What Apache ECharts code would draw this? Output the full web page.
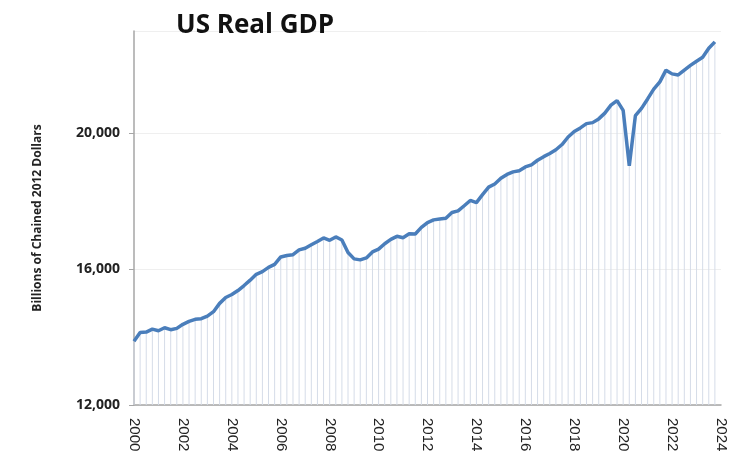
<!DOCTYPE html>
<html>
<head>
<meta charset="utf-8">
<script src="https://cdn.jsdelivr.net/npm/echarts@6/dist/echarts.min.js"></script>
<style>html,body{margin:0;padding:0;background:#fff}#c{width:750px;height:470px}</style>
</head>
<body>
<div id="c"></div>
<script>
// Quarterly real GDP, 2000 Q1 .. 2023 Q4
const years = [];
for (let y = 2000; y <= 2024; y++) years.push(y);
const quarters = [];
years.forEach(y => { ['Q1','Q2','Q3','Q4'].forEach(q => quarters.push(y + ' ' + q)); });
const categories = quarters.slice(0, 97); // 2000 Q1 .. 2024 Q1 (axis end)

const gdp = [
  13878, 14131, 14145, 14230,
  14183, 14272, 14215, 14254,
  14373, 14461, 14520, 14538,
  14614, 14744, 14989, 15163,
  15249, 15367, 15513, 15671,
  15845, 15923, 16048, 16137,
  16354, 16396, 16421, 16562,
  16612, 16713, 16810, 16915,
  16843, 16943, 16854, 16485,
  16298, 16269, 16326, 16503,
  16583, 16743, 16872, 16961,
  16921, 17035, 17031, 17223,
  17367, 17445, 17470, 17490,
  17662, 17710, 17860, 18016,
  17954, 18186, 18407, 18500,
  18667, 18782, 18857, 18892,
  19002, 19063, 19198, 19304,
  19398, 19507, 19661, 19882,
  20044, 20150, 20276, 20305,
  20415, 20585, 20818, 20951,
  20666, 19035, 20512, 20724,
  21002, 21289, 21505, 21848,
  21739, 21708, 21851, 21990,
  22112, 22225, 22491, 22679
];

const yTicks = [12000, 16000, 20000];
const titleText = 'US Real GDP';
const yName = 'Billions of Chained 2012 Dollars';

const chart = echarts.init(document.getElementById('c'), null, {renderer: 'canvas'});
chart.setOption({
  animation: false,
  backgroundColor: '#ffffff',
  title: {
    text: titleText,
    left: 171, top: 8,
    textStyle: {fontFamily: 'Open Sans', fontWeight: 'bold', fontSize: 26, color: '#111'}
  },
  grid: {left: 134, right: 29, top: 31, bottom: 65},
  xAxis: {
    type: 'category',
    data: categories,
    boundaryGap: false,
    axisLine: {lineStyle: {color: '#a6a6a6', width: 1.5}},
    axisTick: {show: false},
    axisLabel: {
      rotate: -90,
      margin: 13,
      interval: (i) => i % 8 === 0,
      formatter: (v) => v.slice(0, 4),
      fontFamily: 'Liberation Sans', fontSize: 15, color: '#222'
    },
    splitLine: {show: false}
  },
  yAxis: {
    type: 'value',
    min: 12000, max: 23000, interval: 4000,
    name: yName,
    nameLocation: 'middle',
    nameGap: 90,
    nameTextStyle: {fontFamily: 'Open Sans', fontWeight: 'bold', fontSize: 12, color: '#222'},
    axisLine: {show: true, lineStyle: {color: '#a6a6a6', width: 1.5}},
    axisTick: {show: true, length: 5, lineStyle: {color: '#a6a6a6'}},
    axisLabel: {
      margin: 14, showMaxLabel: false,
      formatter: (v) => yTicks.indexOf(v) >= 0 ? v.toLocaleString('en-US') : '',
      fontFamily: 'Open Sans', fontWeight: 'bold', fontSize: 14, color: '#222'
    },
    splitLine: {show: true, lineStyle: {color: '#efefef', width: 1}}
  },
  series: [
    {
      type: 'bar',
      data: gdp,
      barWidth: 1,
      itemStyle: {color: '#d5dce8'},
      clip: true,
      silent: true,
      z: 1
    },
    {
      type: 'line',
      data: gdp,
      symbol: 'none',
      lineStyle: {color: '#4a7ebb', width: 3.5},
      z: 3
    }
  ]
});
</script>
</body>
</html>
